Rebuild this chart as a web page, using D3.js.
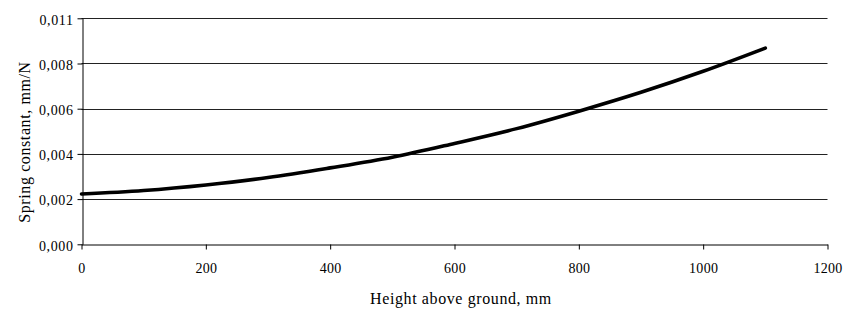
<!DOCTYPE html>
<html>
<head>
<meta charset="utf-8">
<script src="https://cdn.jsdelivr.net/npm/d3@7"></script>
<style>
  html, body { margin: 0; padding: 0; background: #fff; }
  svg { display: block; }
  text { font-family: "Liberation Serif", "Times New Roman", serif; fill: #000; }
</style>
</head>
<body>
<svg id="chart" width="848" height="315"></svg>
<script>
// Data
const heights = [0, 100, 200, 300, 400, 500, 600, 700, 800, 900, 1000, 1100];
const springConstant = [0.00245, 0.00262, 0.00289, 0.00325, 0.00372, 0.00424, 0.00491, 0.00563, 0.00648, 0.00740, 0.00842, 0.00955];
const xTicks = [0, 200, 400, 600, 800, 1000, 1200];
const yTickValues = [0, 0.0022, 0.0044, 0.0066, 0.0088, 0.011];
const yTickLabels = ["0,000", "0,002", "0,004", "0,006", "0,008", "0,011"];
const xTitle = "Height above ground, mm";
const yTitle = "Spring constant, mm/N";

const svg = d3.select("#chart");
const mLeft = 81.5, mRight = 827.5, mTop = 18.3, mBottom = 244.3;

const x = d3.scaleLinear().domain([0, 1200]).range([mLeft, mRight]);
const y = d3.scaleLinear().domain([0, 0.011]).range([mBottom, mTop]);

// gridlines
svg.append("g")
  .selectAll("line")
  .data(yTickValues.slice(1))
  .join("line")
  .attr("x1", mLeft).attr("x2", mRight)
  .attr("y1", d => Math.round(y(d)) + 0.5).attr("y2", d => Math.round(y(d)) + 0.5)
  .attr("stroke", "#222").attr("stroke-width", 1);

// x axis
const xAxis = svg.append("g")
  .attr("transform", `translate(0,${Math.round(mBottom) + 0.5})`)
  .call(d3.axisBottom(x).tickValues(xTicks).tickFormat(d3.format("d")).tickSizeInner(5).tickSizeOuter(0).tickPadding(14));
xAxis.select(".domain").attr("stroke", "#000");
xAxis.selectAll(".tick line").attr("stroke", "#000");
xAxis.selectAll("text").attr("font-size", 14).attr("font-family", "Liberation Serif").attr("fill", "#000")
  .attr("letter-spacing", 0.3);

// y axis
const yAxis = svg.append("g")
  .attr("transform", `translate(${Math.round(mLeft) + 0.5},0)`)
  .call(d3.axisLeft(y).tickValues(yTickValues).tickFormat((d, i) => yTickLabels[i]).tickSizeInner(5).tickSizeOuter(0).tickPadding(4));
yAxis.select(".domain").attr("stroke", "#000");
yAxis.selectAll(".tick line").attr("stroke", "#000");
yAxis.selectAll("text").attr("font-size", 14).attr("font-family", "Liberation Serif").attr("fill", "#000")
  .attr("letter-spacing", 0.6).attr("dy", "0.42em");

// curve
const line = d3.line()
  .x((d, i) => x(heights[i]))
  .y(d => y(d))
  .curve(d3.curveMonotoneX);
svg.append("path")
  .datum(springConstant)
  .attr("d", line)
  .attr("fill", "none")
  .attr("stroke", "#000")
  .attr("stroke-width", 3.6)
  .attr("stroke-linecap", "round");

// titles
svg.append("text")
  .attr("x", 461)
  .attr("y", 304)
  .attr("text-anchor", "middle")
  .attr("font-size", 16)
  .attr("letter-spacing", 0.6)
  .text(xTitle);

svg.append("text")
  .attr("transform", `translate(30,142) rotate(-90)`)
  .attr("text-anchor", "middle")
  .attr("font-size", 16)
  .attr("letter-spacing", 0.6)
  .text(yTitle);
</script>
</body>
</html>
